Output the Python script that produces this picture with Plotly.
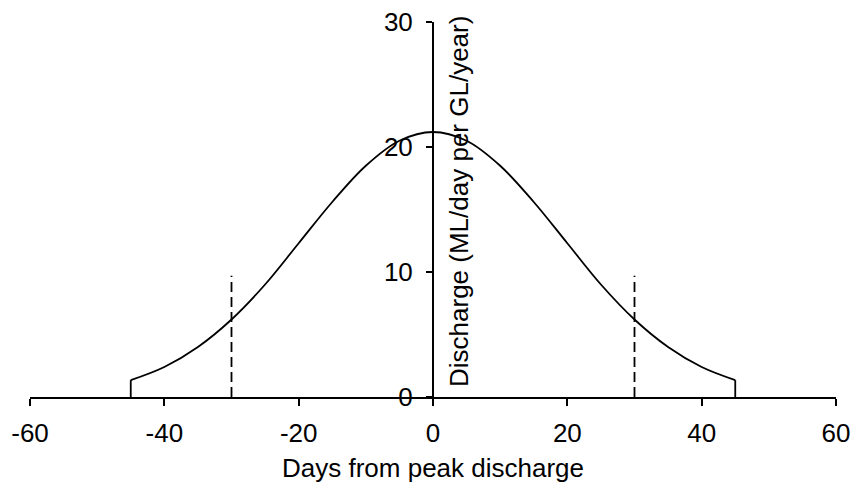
import plotly.graph_objects as go

# Data
days = [-45, -40, -35, -30, -25, -20, -15, -10, -5, 0, 5, 10, 15, 20, 25, 30, 35, 40, 45]
discharge = [1.35, 2.4, 4.0, 6.2, 9.0, 12.3, 15.6, 18.5, 20.5, 21.2, 20.5, 18.5, 15.6, 12.3, 9.0, 6.2, 4.0, 2.4, 1.35]
end_days = [-45, 45]
end_values = [1.35, 1.35]
window_days = [-30, 30]
window_low = [0, 0]
window_high = [9.7, 9.7]

x_ticks = [-60, -40, -20, 0, 20, 40, 60]
y_ticks = [0, 10, 20, 30]

FONT = "Liberation Sans, Arial, sans-serif"
FS = 26

fig = go.Figure()
fig.add_trace(go.Scatter(x=days, y=discharge, mode="lines",
                         line=dict(color="black", width=1.8, shape="spline", smoothing=1.0),
                         showlegend=False, hoverinfo="skip"))
for xd, yv in zip(end_days, end_values):
    fig.add_trace(go.Scatter(x=[xd, xd], y=[0, yv], mode="lines",
                             line=dict(color="black", width=1.8),
                             showlegend=False, hoverinfo="skip"))
for xd, lo, hi in zip(window_days, window_low, window_high):
    fig.add_trace(go.Scatter(x=[xd, xd], y=[lo, hi], mode="lines",
                             line=dict(color="black", width=1.8, dash="10px,5px"),
                             showlegend=False, hoverinfo="skip"))

fig.update_layout(
    width=853, height=488,
    margin=dict(l=30, r=17, t=22, b=91),
    paper_bgcolor="white", plot_bgcolor="white",
    font=dict(family=FONT, size=FS, color="black"),
    xaxis=dict(range=[-60, 60], tickvals=x_ticks, ticktext=[str(v) for v in x_ticks],
               automargin=False,
               showgrid=False, zeroline=False, showline=True, linecolor="black", linewidth=2,
               ticks="outside", ticklen=7, tickwidth=2, tickcolor="black",
               ticklabelstandoff=5,
               title=dict(text="Days from peak discharge", standoff=12,
                          font=dict(family=FONT, size=FS, color="black")),
               tickfont=dict(family=FONT, size=FS, color="black")),
    yaxis=dict(range=[0, 30], tickvals=y_ticks, ticktext=[str(v) for v in y_ticks],
               anchor="free", position=0.5, automargin=False,
               showgrid=False, zeroline=False, showline=True, linecolor="black", linewidth=2,
               ticks="outside", ticklen=6, tickwidth=2, tickcolor="black",
               ticklabelstandoff=8,
               tickfont=dict(family=FONT, size=FS, color="black")),
    annotations=[dict(x=0, y=15.6, xref="x", yref="y", xshift=26,
                      text="Discharge (ML/day per GL/year)", textangle=-90,
                      showarrow=False, xanchor="center", yanchor="middle",
                      font=dict(family=FONT, size=FS, color="black"))],
)

fig.write_html("out.html")
